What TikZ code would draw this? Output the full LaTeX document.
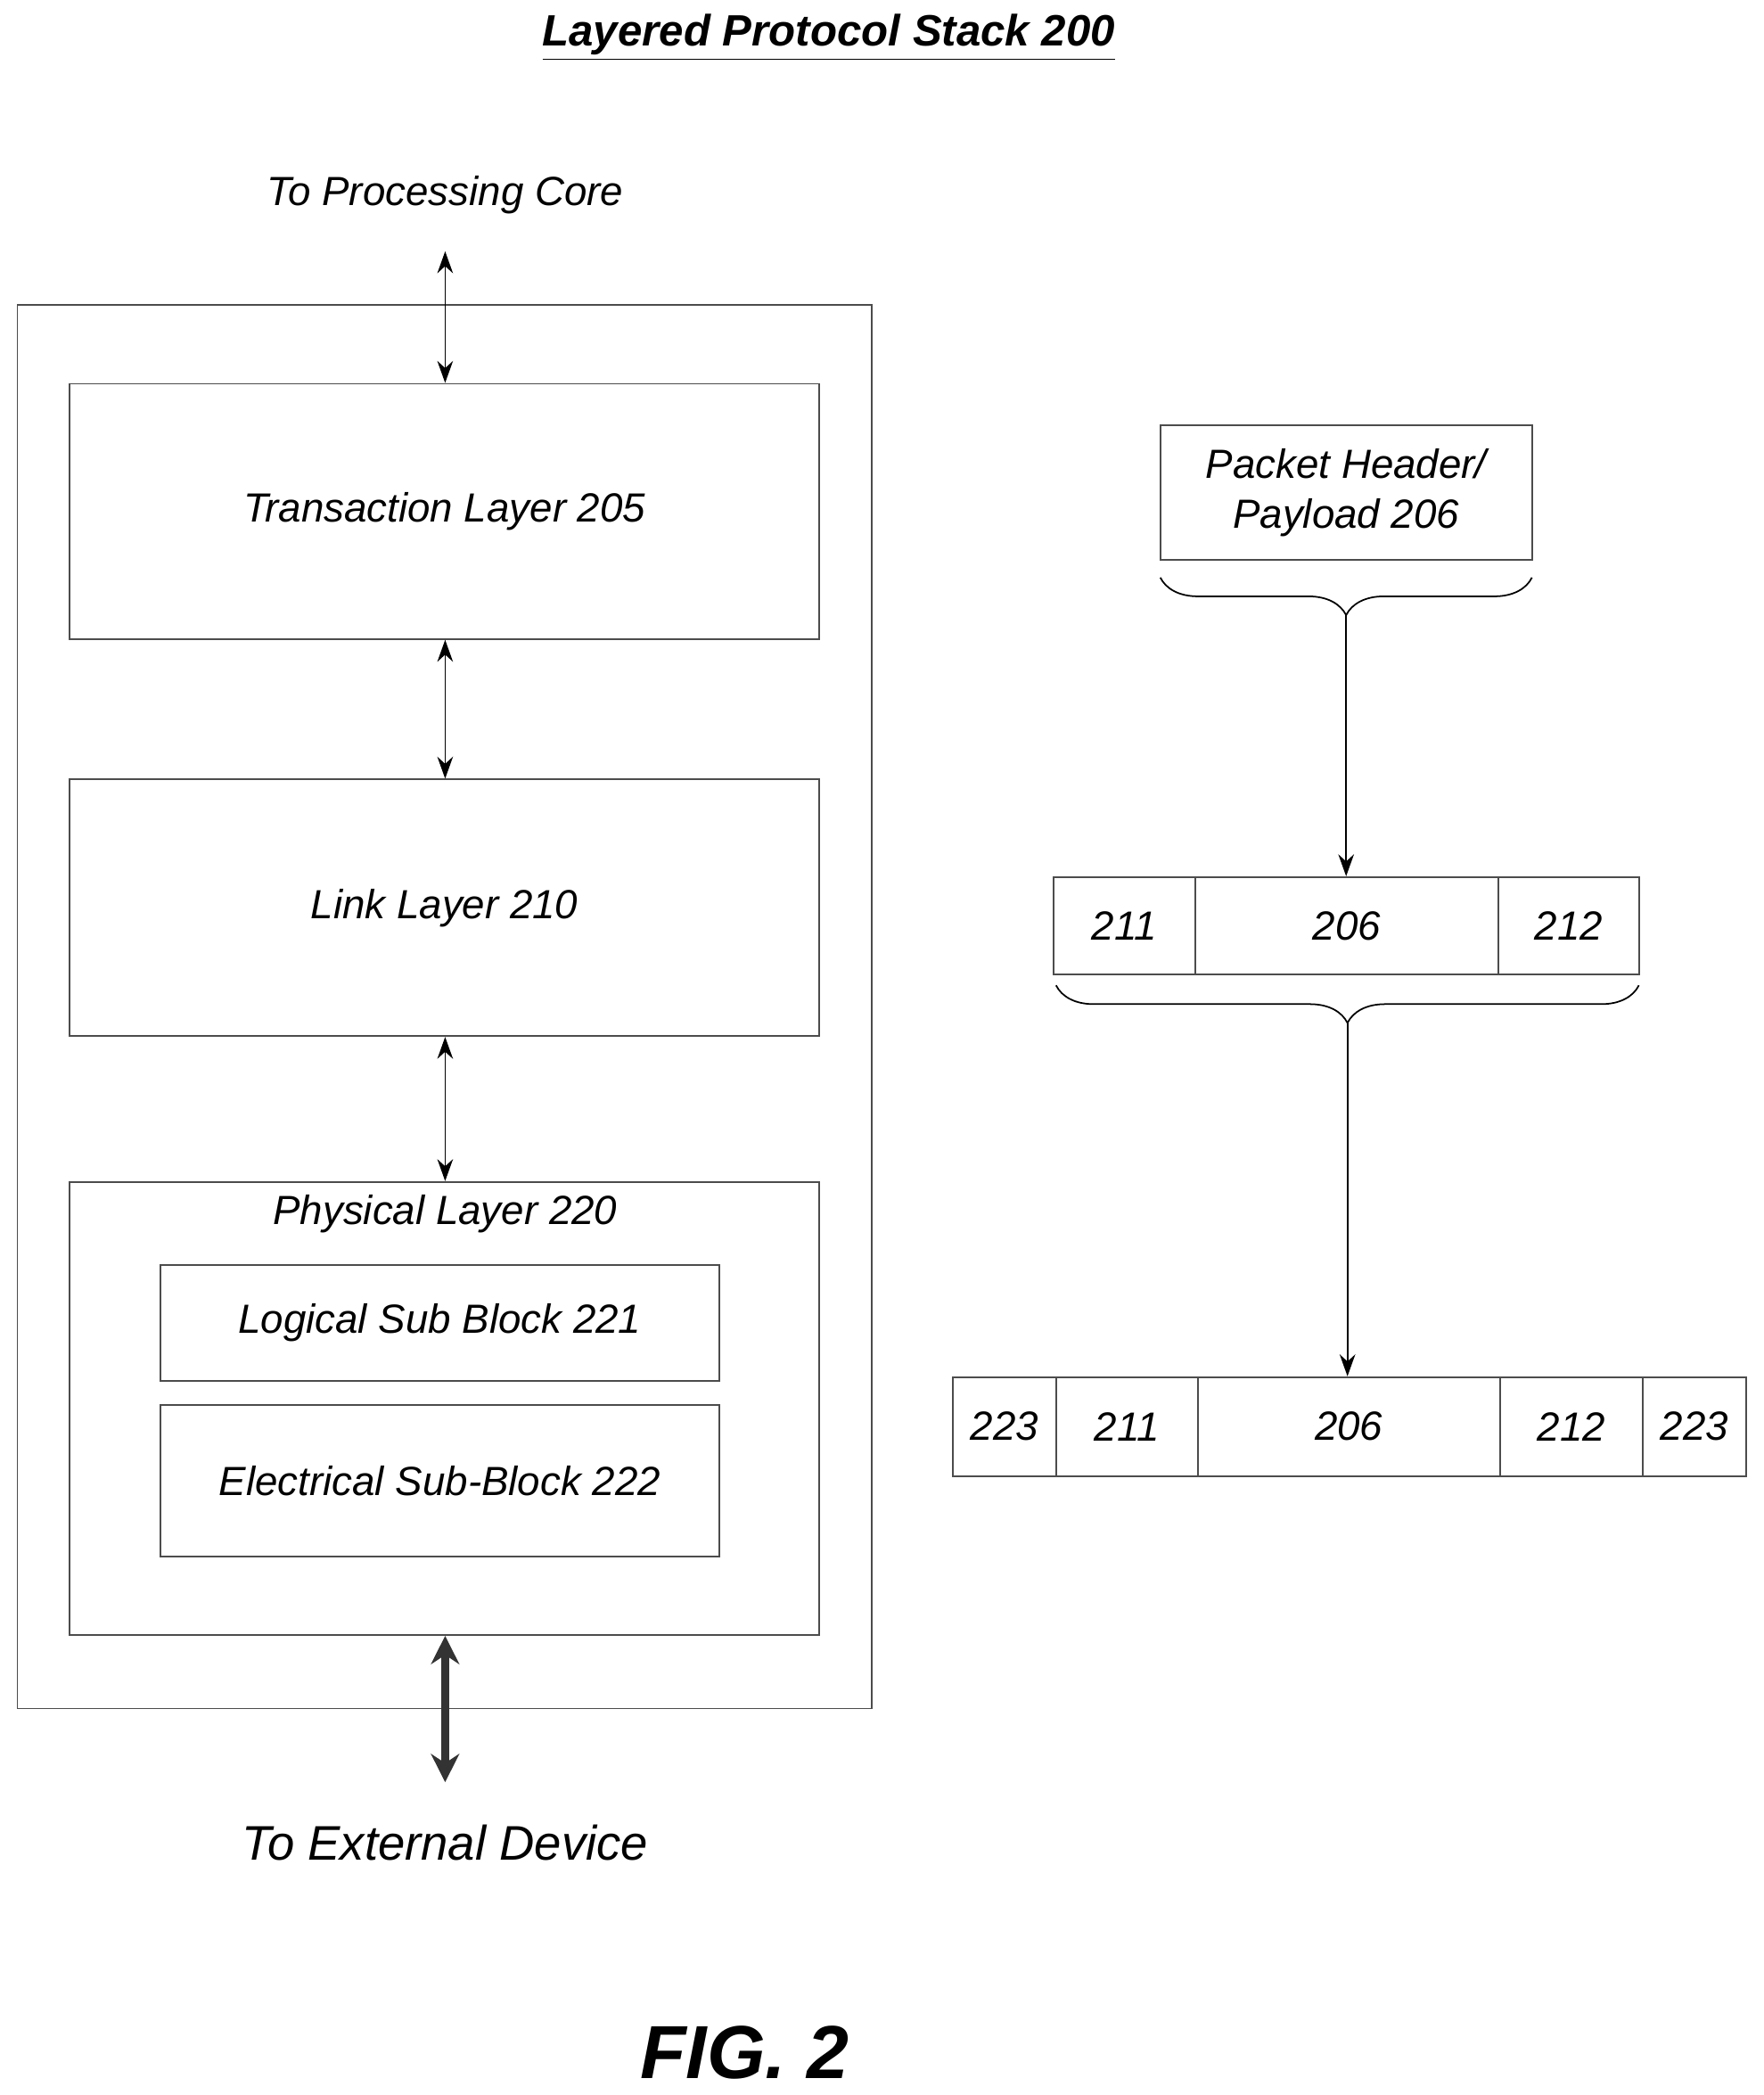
\documentclass[tikz,border=0pt]{standalone}
\usepackage{fontspec}
\setmainfont{Liberation Sans}
\usetikzlibrary{fit,arrows.meta,decorations.pathreplacing}
\tikzset{
  box/.style={draw=black!70,line width=0.5pt,inner sep=0pt},
  lbl/.style={font=\fontsize{13}{16}\selectfont\itshape,align=center},
  link/.style={{Stealth[length=7pt,width=5pt]}-{Stealth[length=7pt,width=5pt]},line width=0.5pt},
  flow/.style={-{Stealth[length=7pt,width=5pt]},line width=0.5pt},
  brc/.style={decorate,decoration={brace,mirror,amplitude=12pt},line width=0.5pt}
}
\begin{document}
\begin{tikzpicture}[x=0.015cm,y=-0.015cm]
  \useasboundingbox (0,0) rectangle (1319,1567);
  % title
  \node[font=\fontsize{14}{17}\selectfont\bfseries\itshape] (title) at (620,28) {\underline{Layered Protocol Stack 200}};
  \node[lbl] (core) at (333,146) {To Processing Core};
  % stack
  \node[box,fit={(13,228)(652,1278)}] (stack) {};
  \node[box,fit={(52,287)(613,478)}] (trans) {};
  \node[lbl] (transtxt) at (trans.center) {Transaction Layer 205};
  \node[box,fit={(52,583)(613,775)}] (link) {};
  \node[lbl] (linktxt) at (link.center) {Link Layer 210};
  \node[box,fit={(52,884)(613,1223)}] (phys) {};
  \node[lbl] (physlbl) at (333,908) {Physical Layer 220};
  \node[box,fit={(120,946)(538,1033)}] (logic) {};
  \node[lbl] (logictxt) at (logic.center) {Logical Sub Block 221};
  \node[box,fit={(120,1051)(538,1164)}] (elec) {};
  \node[lbl] (electxt) at (elec.center) {Electrical Sub-Block 222};
  \node[font=\fontsize{15.5}{19}\selectfont\itshape] (ext) at (333,1378) {To External Device};
  \coordinate (coretip) at (333,188);
  \coordinate (exttip) at (333,1333);
  \draw[link] (coretip) -- (trans.north -| coretip);
  \draw[link] (trans.south -| coretip) -- (link.north -| coretip);
  \draw[link] (link.south -| coretip) -- (phys.north -| coretip);
  \draw[{Stealth[length=9pt,width=9pt]}-{Stealth[length=9pt,width=9pt]},line width=2.5pt,black!80] (phys.south -| exttip) -- (exttip);
  % packet
  \node[box,fit={(868,318)(1146,419)}] (pkt) {};
  \node[lbl] (pkttxt) at (pkt.center) {Packet Header/\\Payload 206};
  \draw[brc] (868,432) -- (1146,432) coordinate[midway,yshift=-12pt] (brcA);
  \foreach \n/\a/\b/\t in {a211/788/894/211,a206/894/1121/206,a212/1121/1226/212}{
    \node[box,fit={(\a,656)(\b,729)}] (\n) {};
    \node[lbl] at (\n.center) {\t};
  }
  \draw[flow] (brcA) -- (brcA |- a206.north);
  \draw[brc] (790,737) -- (1226,737) coordinate[midway,yshift=-12pt] (brcB);
  \foreach \n/\a/\b/\t in {b223/713/790/223,b211/790/896/211,b206/896/1122/206,b212/1122/1229/212,c223/1229/1306/223}{
    \node[box,fit={(\a,1030)(\b,1104)}] (\n) {};
    \node[lbl] at (\n.center) {\t};
  }
  \draw[flow] (brcB) -- (brcB |- b206.north);
  \node[font=\fontsize{24}{29}\selectfont\bfseries\itshape] (fig) at (557,1535) {FIG. 2};
\end{tikzpicture}
\end{document}
